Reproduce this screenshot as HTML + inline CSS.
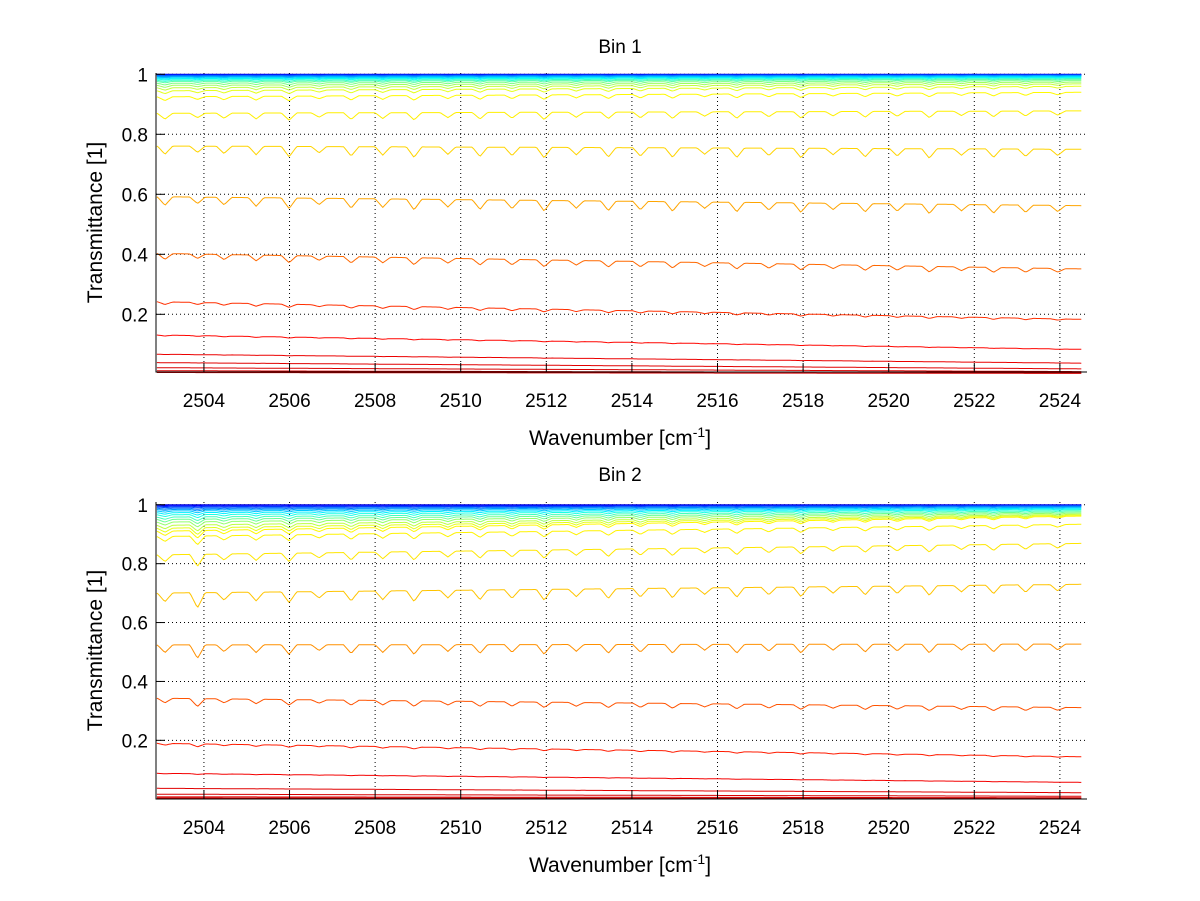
<!DOCTYPE html>
<html><head><meta charset="utf-8"><title>Transmittance bins</title>
<style>
html,body{margin:0;padding:0;background:#fff;}
svg{display:block;font-family:"Liberation Sans",sans-serif;}
</style></head>
<body>
<svg id="fig" width="1200" height="901" viewBox="0 0 1200 901"></svg>
<script>
// ---- data ----
const xTicks = [2504,2506,2508,2510,2512,2514,2516,2518,2520,2522,2524];
const yTicks = [0.2,0.4,0.6,0.8,1];
const yTickLabels = ["0.2","0.4","0.6","0.8","1"];
const dipPositions = [2503.09,2503.85,2504.47,2505.22,2505.99,2506.69,2507.44,2508.18,2508.91,2509.7,2510.45,2511.2,2511.95,2512.7,2513.45,2514.2,2514.95,2515.7,2516.45,2517.2,2517.95,2518.7,2519.45,2520.2,2520.95,2521.7,2522.45,2523.2,2523.95];
const dipDepthBin1 = [0.8,0.6,0.7,0.8,1.0,0.6,0.9,0.8,1.0,0.7,0.9,0.8,1.0,0.7,0.9,0.8,0.9,0.6,0.9,0.7,0.9,0.6,0.8,0.7,0.9,0.6,0.8,0.7,0.6];
const dipDepthBin2 = [0.8,1.4,0.7,0.8,1.0,0.6,0.9,0.8,1.0,0.7,0.9,0.8,1.0,0.7,0.9,0.8,0.9,0.6,0.9,0.7,0.9,0.6,0.8,0.7,0.9,0.6,0.8,0.7,0.6];
const bin1Left  = [1.0,0.999,0.998,0.997,0.996,0.994,0.992,0.99,0.987,0.984,0.98,0.976,0.97,0.963,0.955,0.945,0.925,0.87,0.761,0.592,0.403,0.242,0.131,0.067,0.039,0.022,0.012,0.006];
const bin1Right = [1.0,0.999,0.999,0.998,0.997,0.996,0.995,0.993,0.991,0.989,0.986,0.983,0.979,0.974,0.968,0.96,0.94,0.878,0.75,0.562,0.351,0.183,0.083,0.037,0.018,0.009,0.005,0.003];
const bin2Left  = [1.0,0.998,0.995,0.992,0.988,0.984,0.979,0.973,0.966,0.958,0.95,0.941,0.93,0.92,0.91,0.892,0.83,0.70,0.524,0.343,0.19,0.088,0.037,0.017,0.008,0.004];
const bin2Right = [1.0,0.999,0.998,0.997,0.995,0.993,0.99,0.987,0.984,0.98,0.976,0.972,0.968,0.965,0.962,0.934,0.869,0.73,0.527,0.311,0.144,0.057,0.022,0.01,0.005,0.003];

const NS="http://www.w3.org/2000/svg";
const svg=document.getElementById('fig');
function mk(tag,attrs,parent){const e=document.createElementNS(NS,tag);for(const k in attrs)e.setAttribute(k,attrs[k]);(parent||svg).appendChild(e);return e;}
function jet(t){
  const r=Math.max(0,Math.min(1,Math.min(4*t-1.5,-4*t+4.5)));
  const g=Math.max(0,Math.min(1,Math.min(4*t-0.5,-4*t+3.5)));
  const b=Math.max(0,Math.min(1,Math.min(4*t+0.5,-4*t+2.5)));
  return `rgb(${Math.round(r*255)},${Math.round(g*255)},${Math.round(b*255)})`;
}

function drawPanel(cfg){
  const {name,title,top,bottom,ymin,ymax,left,right,depths,titleY,xlabY}=cfg;
  const xmin=2502.88,xmax=2524.61,x0=156,x1=1086;
  const sx=v=>x0+(v-xmin)/(xmax-xmin)*(x1-x0);
  const sy=v=>bottom-(v-ymin)/(ymax-ymin)*(bottom-top);
  const g=mk('g',{});
  
  
  const t=mk('text',{x:620,y:titleY,'text-anchor':'middle','font-size':19},g);
  t.textContent=title;
  
  
  xTicks.forEach(v=>{const l=mk('line',{x1:sx(v),x2:sx(v),y1:top,y2:bottom,stroke:'#000','stroke-width':1,'stroke-dasharray':'1,3'},g);
    });
  yTicks.forEach(v=>{const l=mk('line',{x1:x0,x2:x1,y1:sy(v),y2:sy(v),stroke:'#000','stroke-width':1,'stroke-dasharray':'1,3'},g);
    });
  const n=left.length, nTop=n-12;
  for(let i=0;i<n;i++){
    const L=left[i],R=right[i];
    let ct;
    if(i<nTop) ct=0.08+0.52*(i/(nTop-1)); else ct=0.62+0.3*Math.pow(1-L,1.3);
    if(i===nTop-1) ct=0.6;
    let d='';
    for(let x=xmin+0.02;x<=xmax-0.08;x+=0.04){
      const f=(x-xmin)/(xmax-xmin);
      const T=L+(R-L)*f;
      const amp=0.25*T*T*(1-T);
      let dip=0;
      for(let j=0;j<dipPositions.length;j++){
        const dd=Math.abs(x-dipPositions[j]);
        if(dd<0.18) dip+=(1-dd/0.18)*depths[j];
      }
      const v=T-amp*dip;
      d+=(d?'L':'M')+sx(x).toFixed(1)+','+sy(v).toFixed(1);
    }
    const p=mk('path',{d:d,fill:'none',stroke:jet(ct),'stroke-width':1},g);
    
    
  }
  const ax=mk('path',{d:`M${x0},${top}V${bottom}H${x1+1}`,fill:'none',stroke:'#000','stroke-width':1},g);
  
  xTicks.forEach(v=>{
    mk('line',{x1:sx(v),x2:sx(v),y1:bottom,y2:bottom-9,stroke:'#000'},g);
    const tx=mk('text',{x:sx(v),y:bottom+35,'text-anchor':'middle','font-size':19},g);
    tx.textContent=v;
    
  });
  yTicks.forEach((v,k)=>{
    mk('line',{x1:x0,x2:x0+9,y1:sy(v),y2:sy(v),stroke:'#000'},g);
    const ty=mk('text',{x:x0-8,y:sy(v)+7,'text-anchor':'end','font-size':19},g);
    ty.textContent=yTickLabels[k];
    
  });
  const xl=mk('text',{x:620,y:xlabY,'text-anchor':'middle','font-size':21},g);
  xl.innerHTML='Wavenumber [cm<tspan dy="-8" font-size="14">-1</tspan><tspan dy="8">]</tspan>';
  
  const cy=(top+bottom)/2;
  const yl=mk('text',{x:102,y:cy,'text-anchor':'middle','font-size':21,transform:`rotate(-90 102 ${cy})`},g);
  yl.textContent='Transmittance [1]';
  
}

drawPanel({name:'bin-1-panel',title:'Bin 1',top:73,bottom:372,ymin:0.0077,ymax:1.0043,left:bin1Left,right:bin1Right,depths:dipDepthBin1,titleY:53,xlabY:445});
drawPanel({name:'bin-2-panel',title:'Bin 2',top:502,bottom:799,ymin:0.0007,ymax:1.0095,left:bin2Left,right:bin2Right,depths:dipDepthBin2,titleY:481,xlabY:872});
</script>
</body></html>
